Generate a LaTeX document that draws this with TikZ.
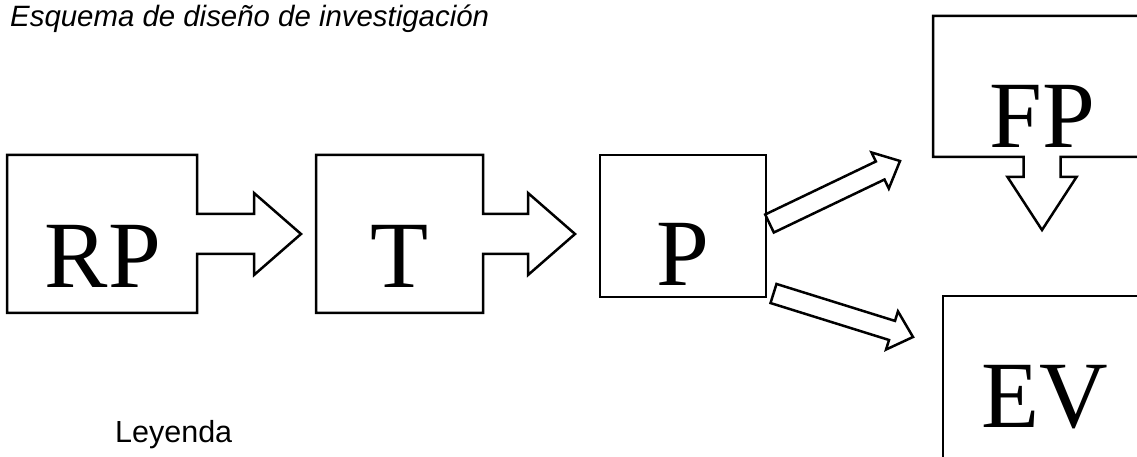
\documentclass[tikz,border=0pt]{standalone}
\usepackage{fontspec}
\setmainfont{Liberation Serif}
\newfontfamily\arialfont{Liberation Sans}
\usetikzlibrary{calc}

% box with a fat arrow on its right side: #1 box, #2 shaft, #3 head
\newcommand{\rightcallout}[3]{%
    \draw[outline] (#1.south east) -- (#1.south west) -- (#1.north west)
        -- (#1.north east) -- ($(#1.east)+(0,20)$) -- ++(#2,0) -- ++(0,21)
        -- ($(#1.east)+(#2+#3,0)$) -- ($(#1.east)+(#2,-41)$) -- ++(0,21)
        -- ($(#1.east)+(0,-20)$) -- cycle;}
% box with a fat arrow below it
\newcommand{\downcallout}[1]{%
    \draw[outline] (#1.south west) -- (#1.north west) -- (#1.north east)
        -- (#1.south east) -- ($(#1.south)+(18.5,0)$) -- ++(0,-20) -- ++(16,0)
        -- ($(#1.south)+(0,-73)$) -- ($(#1.south)+(-34.5,-20)$) -- ++(16,0)
        -- ++(0,20) -- cycle;}
% thin block arrow from #1 to #2
\newcommand{\blockarrow}[2]{%
    \coordinate (ba-h) at ($(#2)!22pt!(#1)$);
    \draw[outline] ($(#1)!10pt!90:(#2)$) -- ($(ba-h)!10pt!90:(#2)$)
        -- ($(ba-h)!20pt!90:(#2)$) -- (#2) -- ($(ba-h)!20pt!-90:(#2)$)
        -- ($(ba-h)!10pt!-90:(#2)$) -- ($(#1)!10pt!-90:(#2)$) -- cycle;}

\begin{document}
\begin{tikzpicture}[x=1pt,y=1pt,line join=miter,
        outline/.style={draw, line width=2.5pt, fill=white},
        cbox/.style={inner sep=0pt, outer sep=0pt},
        big/.style={inner sep=0pt, anchor=base,%
                        font=\fontsize{95}{100}\selectfont},
        caption/.style={inner sep=0pt, anchor=base west,%
                        font=\arialfont\fontsize{29.4}{32}\selectfont}]
\useasboundingbox (0,0) rectangle (1137,457);
\clip (0,0) rectangle (1137,457);
\node[cbox, minimum width=190pt, minimum height=158pt] (rpbox) at (102,223) {};
\node[cbox, minimum width=167pt, minimum height=158pt] (tbox) at (399.5,223) {};
\node[cbox, minimum width=166pt, minimum height=142pt] (pbox) at (683,231) {};
\node[cbox, minimum width=218pt, minimum height=141pt] (fpbox) at (1042,370.5) {};
\node[cbox, minimum width=204pt, minimum height=180pt] (evbox) at (1045,71) {};
\coordinate (pup) at ($(pbox.east)+(3.5,2.5)$);
\coordinate (pdown) at ($(pbox.south east)+(7.5,3.5)$);
\coordinate (fpin) at (900,296);
\coordinate (evin) at (913,120);
\rightcallout{rpbox}{57}{47}
\rightcallout{tbox}{45}{47}
\draw[outline] (pbox.south west) rectangle (pbox.north east);
\downcallout{fpbox}
\draw[outline] (evbox.south west) rectangle (evbox.north east);
\blockarrow{pup}{fpin}
\blockarrow{pdown}{evin}
\node[big] (rp) at (103,169) {RP};
\node[big] (t) at (400,169) {T};
\node[big] (p) at (683,171) {P};
\node[big] (fp) at (1042,309) {FP};
\node[big] (ev) at (1045,29) {EV};
\node[caption] (title) at (10,430) {\itshape Esquema de diseño de investigación};
\node[caption, font=\arialfont\fontsize{30.5}{32}\selectfont] (leyenda)
    at (115,14) {Leyenda};
\end{tikzpicture}
\end{document}
